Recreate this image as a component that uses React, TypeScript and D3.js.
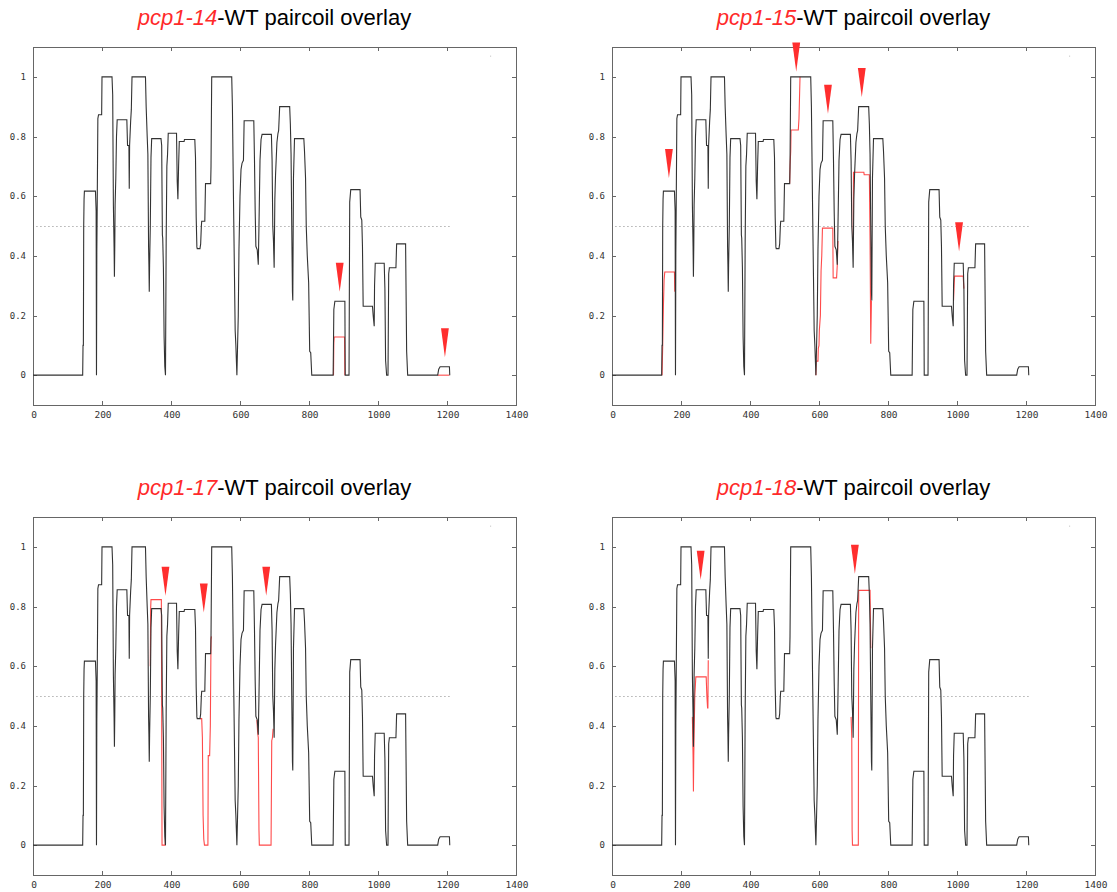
import React from "react";
import * as d3 from "d3";

// ---- WT paircoil profile (residue, score) ----
const wtX = [0,144,145,146,147,148,149,181,183,184,185,186,188,190,199,200,229,231,233,235,236,237,238,240,242,244,272,274,278,279,280,283,285,287,326,328,331,333,335,336,337,338,340,342,344,371,373,375,376,378,380,382,384,386,388,390,392,416,418,420,422,424,438,439,469,471,473,475,476,484,486,488,489,498,500,515,516,518,576,578,581,584,586,588,591,593,595,597,600,603,606,610,612,640,642,644,646,650,653,655,658,661,664,691,693,695,697,699,701,703,707,710,712,715,744,746,748,750,752,753,755,758,785,787,790,792,795,799,802,805,808,870,872,875,904,905,916,918,921,948,950,953,955,957,984,986,989,990,992,1018,1020,1022,1025,1029,1031,1033,1052,1054,1080,1083,1086,1173,1176,1180,1207,1208];
const wtY = [0,0,0.1,0.1,0.5,0.59,0.617,0.617,0.55,0,0.41,0.55,0.86,0.873,0.873,1,1,0.94,0.57,0.43,0.33,0.43,0.57,0.66,0.8,0.856,0.856,0.77,0.77,0.625,0.77,0.85,0.89,1,1,0.9,0.8,0.74,0.43,0.37,0.28,0.37,0.5,0.73,0.793,0.793,0.77,0.47,0.46,0.36,0.13,0.03,0,0.45,0.7,0.74,0.811,0.811,0.65,0.59,0.7,0.783,0.783,0.79,0.79,0.73,0.53,0.43,0.424,0.424,0.44,0.5,0.516,0.516,0.642,0.642,0.7,1,1,0.9,0.6,0.33,0.15,0.1,0,0.1,0.2,0.42,0.6,0.69,0.711,0.72,0.853,0.853,0.72,0.55,0.432,0.42,0.37,0.5,0.72,0.79,0.807,0.807,0.72,0.5,0.45,0.36,0.59,0.67,0.78,0.81,0.82,0.9,0.9,0.84,0.74,0.5,0.28,0.25,0.66,0.793,0.793,0.75,0.66,0.5,0.4,0.31,0.08,0.075,0,0,0.22,0.248,0.248,0,0,0.58,0.622,0.622,0.53,0.52,0.43,0.231,0.231,0.2,0.164,0.3,0.375,0.375,0.29,0.05,0,0,0.34,0.36,0.36,0.44,0.44,0.08,0,0,0.02,0.028,0.028,0];

// ---- mutant deviations (residue, score) ----
const mut14A = [[871,0],[872,0.11],[873,0.128],[903,0.128],[904,0]];
const mut14B = [[1173,0],[1207,0]];
const mut15A = [[145,0],[147,0.1],[149,0.23],[151,0.32],[153,0.346],[181,0.346],[182,0.28]];
const mut15B = [[515,0.642],[516,0.7],[518,0.75],[519,0.822],[540,0.822],[542,0.86],[545,1]];
const mut15C = [[591,0],[592,0.047],[597,0.047],[598,0.09],[600,0.1],[601,0.15],[604,0.2],[606,0.35],[608,0.4],[610,0.493],[640,0.493],[641,0.326],[651,0.326],[653,0.37],[655,0.45]];
const mut15D = [[697,0.45],[699,0.47],[700,0.68],[730,0.68],[731,0.672],[746,0.672],[748,0.45],[750,0.105],[752,0.25]];
const mut15E = [[990,0.25],[992,0.31],[993,0.332],[1018,0.332],[1019,0.31],[1020,0.29]];
const mut17A = [[340,0.6],[341,0.79],[342,0.823],[372,0.823],[373,0.466],[374,0],[383,0],[384,0.03]];
const mut17B = [[484,0.424],[489,0.424],[491,0.36],[493,0.1],[495,0.02],[497,0],[507,0],[508,0.3],[512,0.3],[514,0.4],[516,0.69],[517,0.7]];
const mut17C = [[649,0.42],[651,0.38],[653,0.36],[655,0.05],[656,0],[690,0],[692,0.35],[694,0.36],[696,0.39]];
const mut18A = [[233,0.43],[235,0.3],[236,0.18],[237,0.3],[238,0.37],[240,0.5],[243,0.564],[273,0.564],[275,0.5],[277,0.46],[278,0.46],[279,0.62]];
const mut18B = [[693,0.43],[695,0.36],[696,0.05],[697,0],[714,0],[715,0.854],[748,0.854],[750,0.66]];

// ---- arrowheads (residue, tip score) ----
const arrows14 = [[889,0.28],[1194,0.06]];
const arrows15 = [[165,0.661],[534,1.018],[626,0.876],[724,0.932],[1006,0.415]];
const arrows17 = [[384,0.836],[495,0.78],[676,0.836]];
const arrows18 = [[257,0.89],[704,0.91]];

const mutantNames = ["pcp1-14","pcp1-15","pcp1-17","pcp1-18"];
const titleSuffix = "-WT paircoil overlay";
const xTicks = [0,200,400,600,800,1000,1200,1400];
const yTicks = [0,0.2,0.4,0.6,0.8,1];
const yTickLabels = ["0","0.2","0.4","0.6","0.8","1"];
const threshold = 0.5;
const thresholdRange = [10,1210];

const panelSegs = [[mut14A,mut14B],[mut15A,mut15B,mut15C,mut15D,mut15E],[mut17A,mut17B,mut17C],[mut18A,mut18B]];
const panelArrows = [arrows14,arrows15,arrows17,arrows18];

const wtData = wtX.map((x,i)=>[x,wtY[i]]);

function Panel({idx, left, top}:{idx:number,left:number,top:number}) {
  const w = 483, h = 358;
  const x = d3.scaleLinear().domain([0,1400]).range([left,left+w]);
  const y = d3.scaleLinear().domain([-0.1,1.1]).range([top+h,top]);
  const line = d3.line<number[]>().x(d=>x(d[0])).y(d=>y(d[1]));
  const tk = 4;
  const mono = "'DejaVu Sans Mono', monospace";
  return (
    <g>
      <text x={left + w/2} y={top - 22} textAnchor="middle" fontFamily="'Liberation Sans', Arial, sans-serif" fontSize={22}>
        <tspan fill="#ff2a2a" fontStyle="italic">{mutantNames[idx]}</tspan>
        <tspan fill="#000">{titleSuffix}</tspan>
      </text>
      <rect x={left+0.5} y={top+0.5} width={w} height={h} fill="none" stroke="#666" strokeWidth={1} shapeRendering="crispEdges"/>
      {xTicks.map((t,i)=>(
        <g key={"x"+i}>
          <line x1={Math.round(x(t))+0.5} x2={Math.round(x(t))+0.5} y1={top+h} y2={top+h-tk} stroke="#666" shapeRendering="crispEdges"/>
          <line x1={Math.round(x(t))+0.5} x2={Math.round(x(t))+0.5} y1={top} y2={top+tk} stroke="#666" shapeRendering="crispEdges"/>
          <text x={x(t)+1} y={top+h+13} textAnchor="middle" fontFamily={mono} fontSize={9.5} fill="#333">{t}</text>
        </g>
      ))}
      {yTicks.map((t,i)=>(
        <g key={"y"+i}>
          <line x1={left} x2={left+tk} y1={Math.round(y(t))+0.5} y2={Math.round(y(t))+0.5} stroke="#666" shapeRendering="crispEdges"/>
          <line x1={left+w} x2={left+w-tk} y1={Math.round(y(t))+0.5} y2={Math.round(y(t))+0.5} stroke="#666" shapeRendering="crispEdges"/>
          <text x={left-7} y={y(t)+3} textAnchor="end" fontFamily={mono} fontSize={9} fill="#333">{yTickLabels[i]}</text>
        </g>
      ))}
      <line x1={x(thresholdRange[0])} x2={x(thresholdRange[1])} y1={Math.round(y(threshold))+0.5} y2={Math.round(y(threshold))+0.5} stroke="#888" strokeDasharray="1,3" strokeWidth={1}/>
      <rect x={x(1325)} y={y(1.071)} width={1} height={1} fill="#bbb"/>
      {panelSegs[idx].map((s,i)=>(
        <path key={"m"+i} d={line(s as number[][]) || ""} fill="none" stroke="#ff4a4a" strokeWidth={1.1}/>
      ))}
      <path d={line(wtData) || ""} fill="none" stroke="#333" strokeWidth={1.1} strokeLinejoin="miter"/>
      {panelArrows[idx].map((a,i)=>{
        const cx = x(a[0]), ty = y(a[1]);
        return <path key={"a"+i} d={`M${cx-3.9},${ty-29}L${cx+3.9},${ty-29}L${cx},${ty}Z`} fill="#ff2e2e"/>;
      })}
    </g>
  );
}

export default function App() {
  const lefts = [33,612,33,612];
  const tops = [47,47,517,517];
  return (
    <div style={{position:"absolute",left:0,top:0}}>
      <svg width={1117} height={892} style={{display:"block",background:"#fff"}}>
        {mutantNames.map((_,i)=>(<Panel key={i} idx={i} left={lefts[i]} top={tops[i]}/>))}
      </svg>
    </div>
  );
}
